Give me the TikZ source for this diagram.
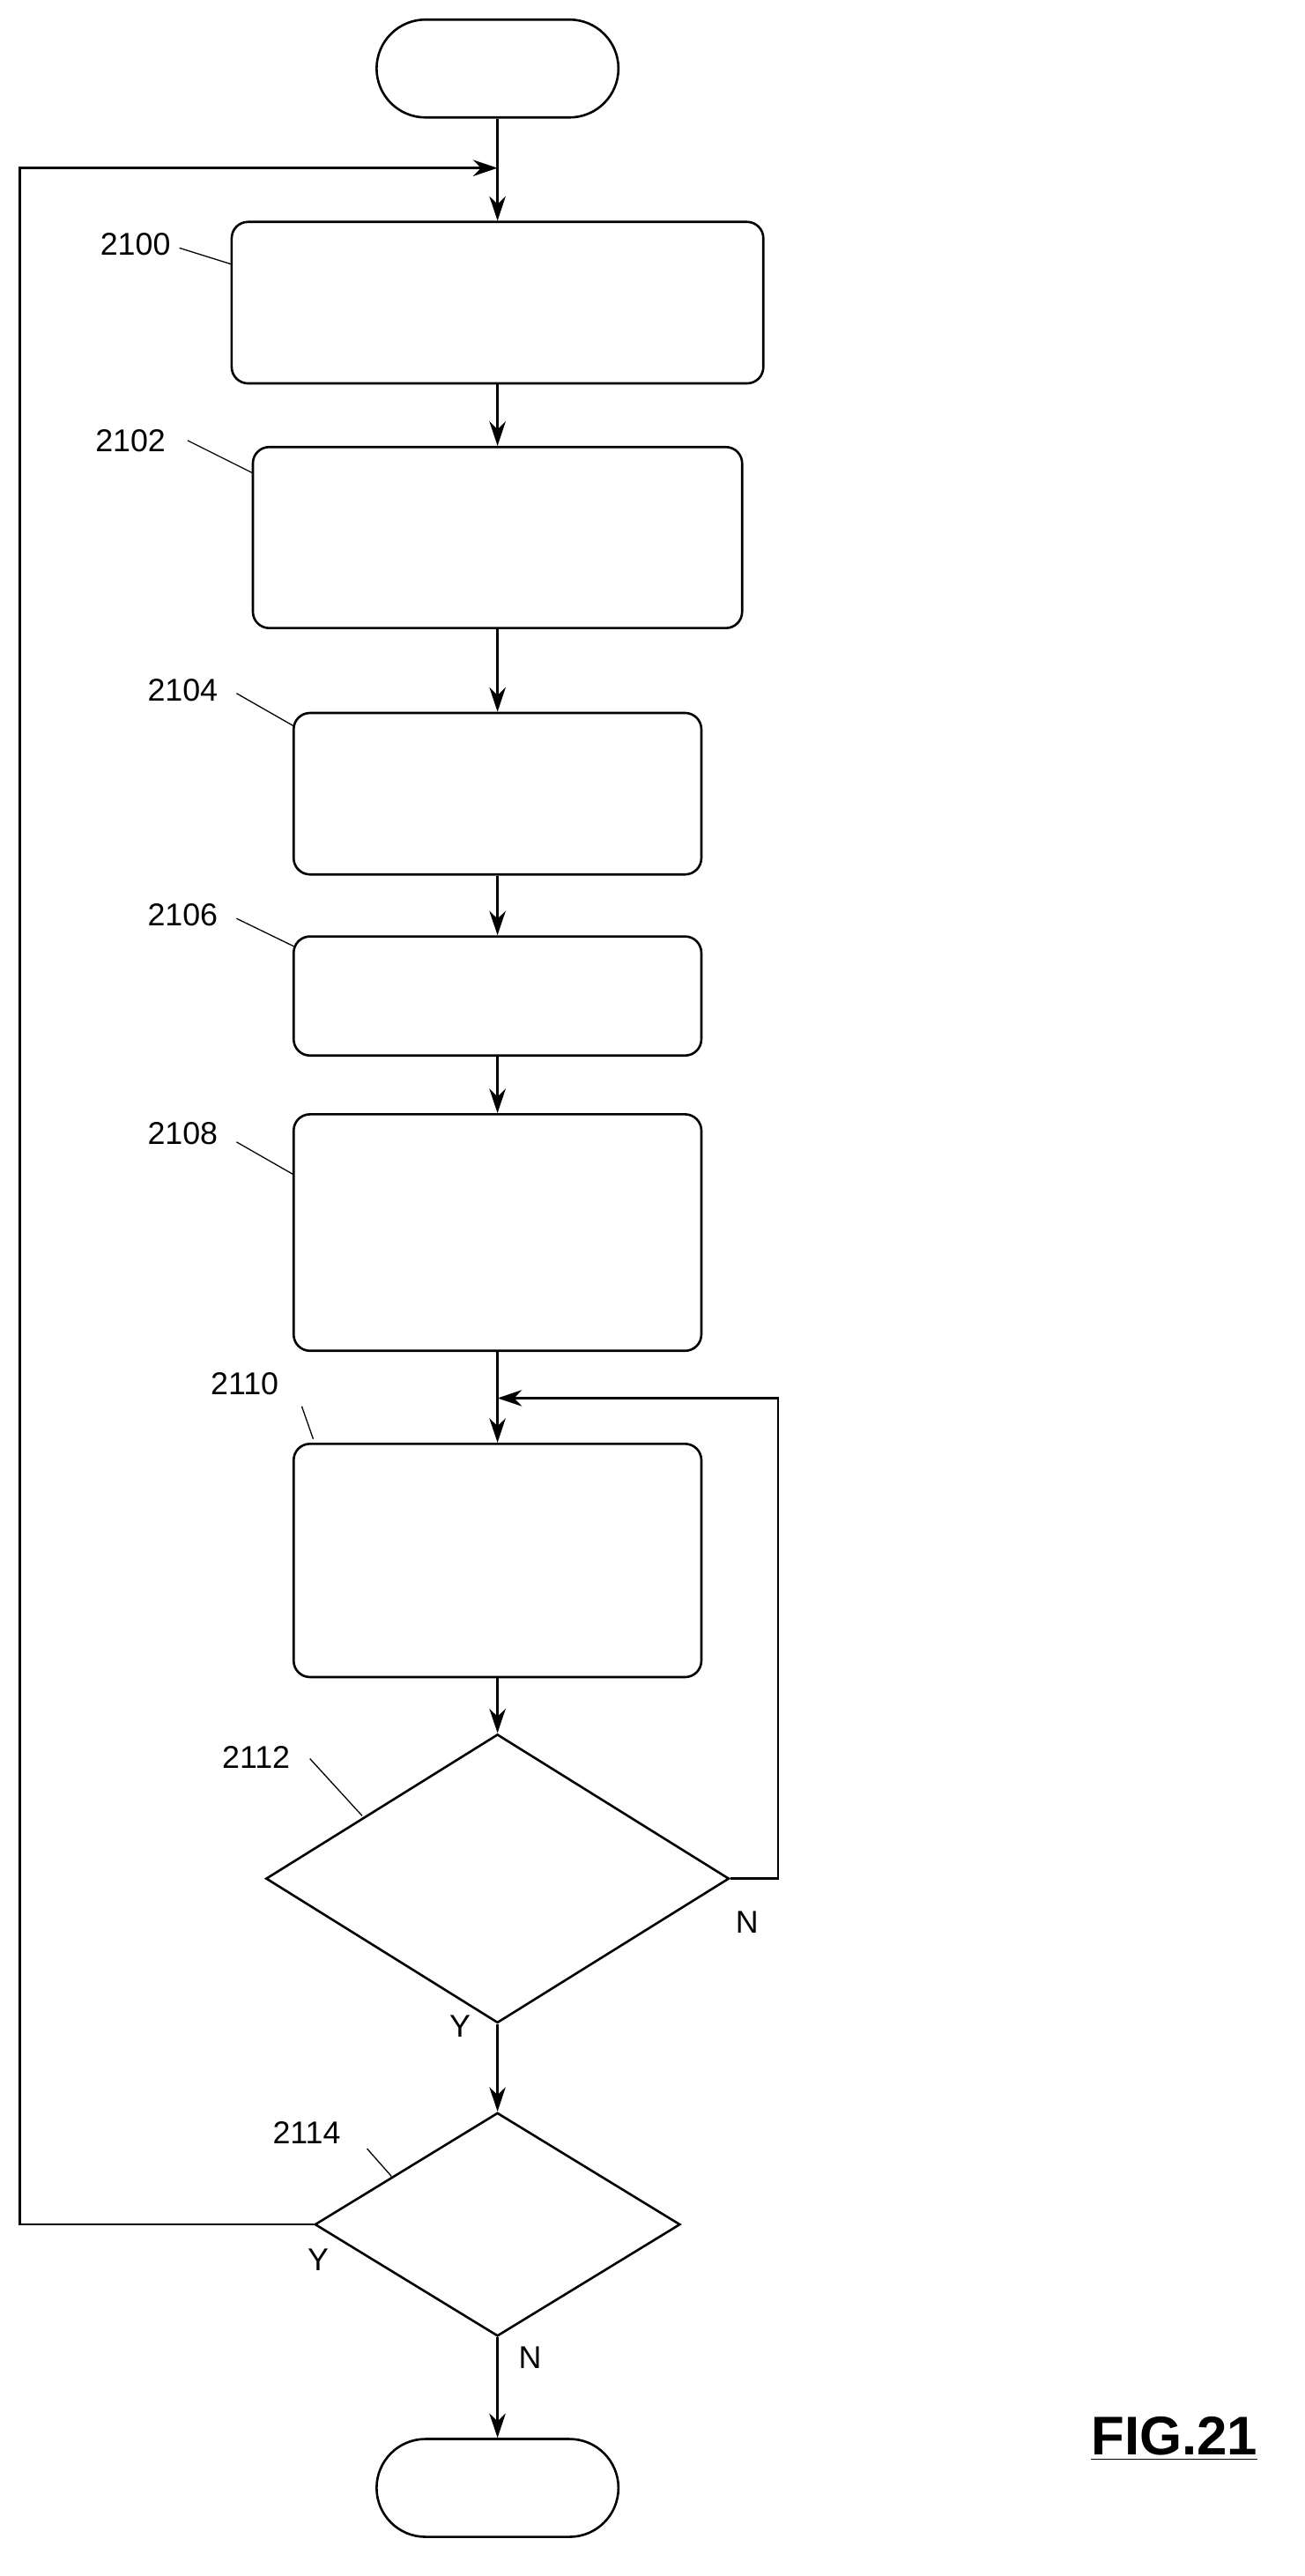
\documentclass[tikz,border=0pt]{standalone}
\usepackage{fontspec}
\setmainfont{Liberation Sans}
\usetikzlibrary{shapes.geometric,arrows.meta}
\tikzset{
  stepbox/.style={draw, thick, rounded corners=0.2cm, inner sep=0pt},
  term/.style={draw, thick, rounded rectangle, minimum width=3.2cm, minimum height=1.2cm},
  decide/.style={draw, thick, diamond, inner sep=0pt},
  lbl/.style={draw=none, font=\fontsize{11}{13}\selectfont},
  flow/.style={thick, -{Stealth[length=3mm,width=2mm]}}
}
\usetikzlibrary{shapes.misc}
\begin{document}
\begin{tikzpicture}[x=0.02cm,y=-0.02cm]
\useasboundingbox (0,0) rectangle (800,1579);

\node[term](start)at(305,42){};
\node[stepbox, minimum width=6.52cm, minimum height=1.98cm](s2100)at(305,185.5){};
\node[stepbox, minimum width=6cm, minimum height=2.22cm](s2102)at(305,329.5){};
\node[stepbox, minimum width=5cm, minimum height=1.98cm](s2104)at(305,486.5){};
\node[stepbox, minimum width=5cm, minimum height=1.46cm](s2106)at(305,610.5){};
\node[stepbox, minimum width=5cm, minimum height=2.9cm](s2108)at(305,755.5){};
\node[stepbox, minimum width=5cm, minimum height=2.86cm](s2110)at(305,956.5){};
\node[decide, minimum width=5.68cm, minimum height=3.54cm](d2112)at(305,1151.5){};
\node[decide, minimum width=4.48cm, minimum height=2.74cm](d2114)at(305,1363.5){};
\node[term](stop)at(305,1525){};

% reference labels
\node[lbl](l2100)at(83,150){2100};
\node[lbl](l2102)at(80,270){2102};
\node[lbl](l2104)at(112,423){2104};
\node[lbl](l2106)at(112,561){2106};
\node[lbl](l2108)at(112,695){2108};
\node[lbl](l2110)at(150,848){2110};
\node[lbl](l2112)at(157,1077){2112};
\node[lbl](l2114)at(188,1307){2114};
\draw (110,152)--(142,162);
\draw (115,270)--(155,290);
\draw (145,425)--(180,445);
\draw (145,563)--(180,580);
\draw (145,700)--(180,720);
\draw (185,862)--(192,882);
\draw (190,1078)--(222,1113);
\draw (225,1317)--(240,1334);

\coordinate (top)at(305,103);
\coordinate (join)at(305,857);
\draw[flow](start)--(s2100);
\draw[flow](s2100)--(s2102);
\draw[flow](s2102)--(s2104);
\draw[flow](s2104)--(s2106);
\draw[flow](s2106)--(s2108);
\draw[flow](s2108)--(s2110);
\draw[flow](s2110)--(d2112);
\draw[flow](d2112)--(d2114);
\draw[flow](d2114)--(stop);
\draw[flow](d2112.east)-|(477,857)--(join);
\draw[flow](d2114.west)-|(12,103)--(top);

\node[lbl](n1)at(458,1178){N};
\node[lbl](y1)at(282,1242){Y};
\node[lbl](y2)at(195,1385){Y};
\node[lbl](n2)at(325,1445){N};
\node[draw=none, font=\fontsize{19}{22}\selectfont\bfseries](fig)at(720,1495){\underline{FIG.21}};
\end{tikzpicture}
\end{document}
